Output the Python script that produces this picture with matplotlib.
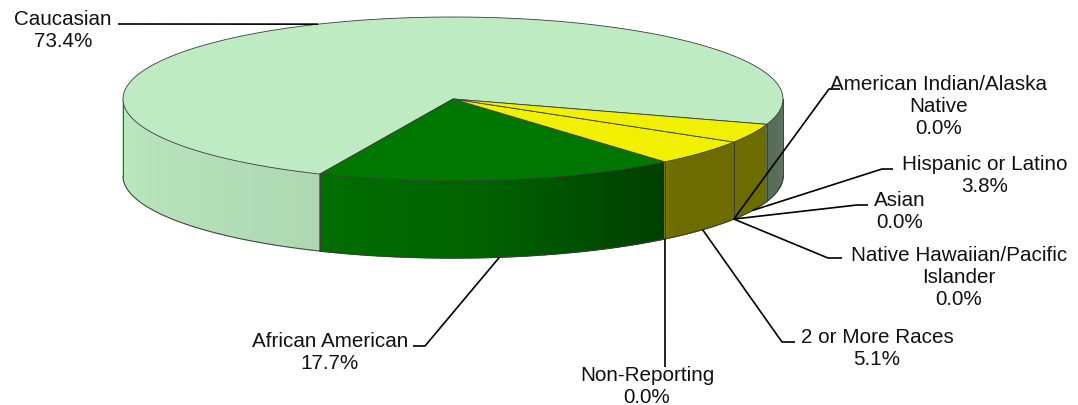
"""
3D-style pie of workforce by race, drawn with flat matplotlib patches.
"""

import numpy as np
import matplotlib
matplotlib.use('Agg')
import matplotlib.pyplot as plt
from matplotlib.patches import Polygon
from matplotlib.colors import to_rgb

plt.rcParams['font.family'] = ['Liberation Sans', 'DejaVu Sans']

# Data (counter-clockwise order around the pie)
categories = ['Caucasian', 'African American', 'Non-Reporting', '2 or More Races',
              'Native Hawaiian/Pacific\nIslander', 'Asian',
              'American Indian/Alaska\nNative', 'Hispanic or Latino']
percents = [73.4, 17.7, 0.0, 5.1, 0.0, 0.0, 0.0, 3.8]
colors = ['#BEEBC1', '#007800', '#007800', '#F0F000', '#F0F000', '#F0F000',
          '#F0F000', '#F0F000']

# Geometry in pixel space
CX, CY = 453, 100          # centre of top face
RX, RY = 330, 82           # ellipse radii
H = 77                     # thickness
START = -18.0              # angle where the first slice starts
EDGE = '#3c3c3c'

# Label layout: text centre, elbow of leader, end of short stub
LAYOUT = {
    'Caucasian': dict(text=(63, 30.5), elbow=(130, 25), stub=(118, 25), top=True),
    'African American': dict(text=(330, 353), elbow=(425, 347), stub=(413, 347)),
    'Non-Reporting': dict(text=(647, 387), elbow=(665, 368), stub=(665, 368)),
    '2 or More Races': dict(text=(877, 348.5), elbow=(782, 343), stub=(795, 343)),
    'Native Hawaiian/Pacific\nIslander': dict(text=(959, 277.5), elbow=(828, 259), stub=(842, 259)),
    'Asian': dict(text=(900, 211.5), elbow=(857, 206), stub=(868, 206)),
    'American Indian/Alaska\nNative': dict(text=(939, 107), elbow=(829, 90), stub=(840, 90)),
    'Hispanic or Latino': dict(text=(985, 175.5), elbow=(882, 170), stub=(893, 170)),
}


def pt(t, z=0.0):
    r = np.radians(t)
    return CX + RX * np.cos(r), CY - RY * np.sin(r) + z


def shade(t):
    # side brightness: lit from the left, dark on the right
    return np.interp(t, [180, 246, 275, 298, 309, 312, 340, 360],
                     [0.99, 0.92, 0.82, 0.62, 0.53, 0.45, 0.45, 0.5])


spans = np.array(percents) / sum(percents) * 360.0
cum = np.cumsum(spans)
starts = START + cum - spans
ends = START + cum

fig = plt.figure(figsize=(10.78, 4.06), dpi=100)
ax = fig.add_axes([0, 0, 1, 1])
ax.set_xlim(0, 1078)
ax.set_ylim(406, 0)
ax.axis('off')


def slice_index(t):
    tt = (t - START) % 360
    return int(np.searchsorted(cum, tt, side='right'))


# Side wall (visible front half, 180..360 degrees)
edges = set(np.linspace(180, 360, 181).tolist())
for e in ends:
    e = e % 360
    if 180 < e < 360:
        edges.add(e)
edges = sorted(edges)
for a0, a1 in zip(edges[:-1], edges[1:]):
    i = min(slice_index((a0 + a1) / 2), len(colors) - 1)
    base = np.array(to_rgb(colors[i]))
    c = np.clip(base * shade((a0 + a1) / 2), 0, 1)
    ts = np.linspace(a0, a1, 3)
    top = [pt(t) for t in ts]
    bot = [pt(t, H) for t in ts[::-1]]
    ax.add_patch(Polygon(top + bot, closed=True, facecolor=c, edgecolor=c,
                         lw=1.0, zorder=1))

# Side outlines
for e in [180, 360] + [e % 360 for e in ends if 180 < e % 360 < 360]:
    x0, y0 = pt(e)
    x1, y1 = pt(e, H)
    ax.plot([x0, x1], [y0, y1], color=EDGE, lw=0.6, zorder=2)
tb = np.linspace(180, 360, 200)
bx, by = zip(*[pt(t, H) for t in tb])
ax.plot(bx, by, color=EDGE, lw=0.7, zorder=2)

# Top face wedges
for s, e, c, v in zip(starts, ends, colors, percents):
    if v <= 0:
        continue
    ts = np.linspace(s, e, max(int(e - s) * 2, 4))
    verts = [(CX, CY)] + [pt(t) for t in ts]
    ax.add_patch(Polygon(verts, closed=True, facecolor=c, edgecolor=EDGE,
                         lw=0.6, zorder=3))

# Leader lines and labels
for name, pct, s, e in zip(categories, percents, starts, ends):
    lay = LAYOUT[name]
    mid = (s + e) / 2
    if lay.get('top'):
        ax_, ay_ = pt(mid)
    else:
        ax_, ay_ = pt(mid, H)
    ex, ey = lay['elbow']
    sx, sy = lay['stub']
    ax.plot([ax_, ex, sx], [ay_, ey, sy], color='black', lw=1.2, zorder=5,
            solid_capstyle='butt')
    tx, ty = lay['text']
    ax.text(tx, ty, f'{name}\n{pct:.1f}%', ha='center', va='center',
            multialignment='center', fontsize=14.9, color='#111111',
            linespacing=1.2, zorder=6)

fig.savefig('out.png', dpi=100)
plt.close(fig)
